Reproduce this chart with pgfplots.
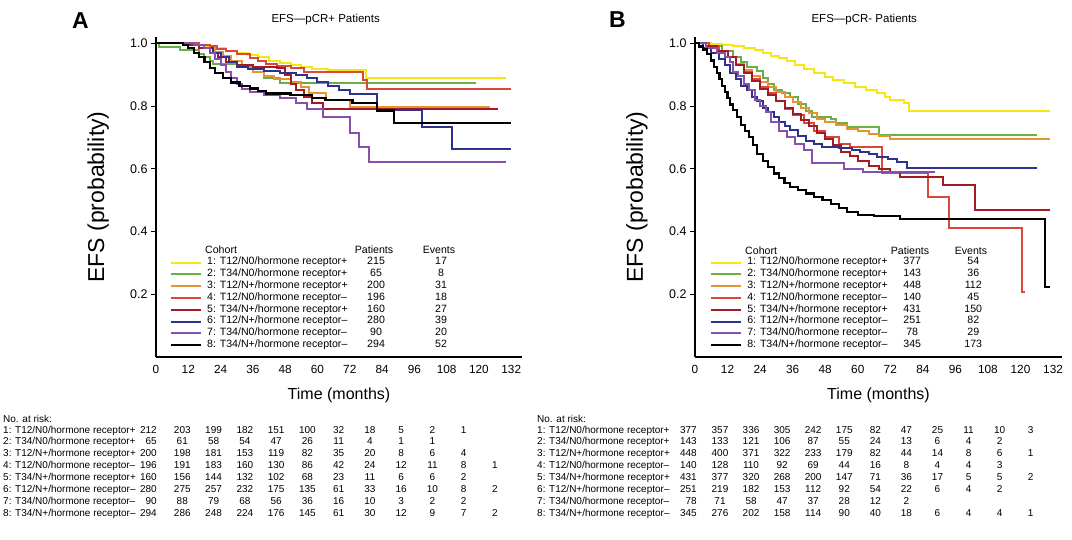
\documentclass[border=0pt]{standalone}
\usepackage{fontspec}
\setmainfont{Liberation Sans}
\usepackage{pgfplots}
\pgfplotsset{compat=1.18}

\definecolor{c1}{RGB}{245,230,20}
\definecolor{c2}{RGB}{105,175,70}
\definecolor{c3}{RGB}{228,148,50}
\definecolor{c4}{RGB}{218,72,58}
\definecolor{c5}{RGB}{165,25,35}
\definecolor{c6}{RGB}{45,50,140}
\definecolor{c7}{RGB}{135,80,170}
\definecolor{c8}{RGB}{0,0,0}

\newcommand\legfont{\fontsize{10.6bp}{12bp}\selectfont}
\newcommand\riskfont{\fontsize{10bp}{12bp}\selectfont}
\newcommand\xtickfont{\fontsize{11.8bp}{13bp}\selectfont}
\newcommand\ytickfont{\fontsize{12.5bp}{14bp}\selectfont}

% #1 label x, #2 col0 right x, #3 col1 x, #4 step, #5 baseline y, #6 label, #7 numbers
\newcommand\riskrow[7]{%
  \node[anchor=base west, inner sep=0pt] at (#1bp,-#5bp) {#6};
  \foreach \v [count=\i from 0] in {#7} {%
    \ifnum\i=0
      \node[anchor=base east, inner sep=0pt] at (#2bp,-#5bp) {\v};
    \else
      \pgfmathsetmacro\xx{#3+#4*(\i-1)}
      \node[anchor=base, inner sep=0pt] at (\xx bp,-#5bp) {\v};
    \fi
  }%
}
% legend entry text: #1 label width, #2 gap, #3 label, #4 patients, #5 events
\newcommand\leg[5]{\makebox[#1bp][l]{#3}\makebox[36bp]{#4}\hspace{#2bp}\makebox[36bp]{#5}}

\pgfplotsset{
  kmaxis/.style={
    scale only axis, height=320bp,
    xmin=0, ymin=0, ymax=1.02,
    axis lines=left, axis line style={-, line width=1.8bp, black},
    xtick={0,12,...,132}, ytick={0.2,0.4,0.6,0.8,1.0},
    tick align=outside, major tick length=5bp,
    xtick style={draw=none}, ytick style={line width=1bp, black},
    /pgf/number format/assume math mode=true,
    xticklabel style={font=\xtickfont},
    yticklabel style={font=\ytickfont, /pgf/number format/.cd, fixed, fixed zerofill, precision=1},
    every axis x label/.style={at={(axis description cs:0.5,-0.134)}, anchor=base, font=\fontsize{16bp}{18bp}\selectfont},
    every axis y label/.style={at={(axis description cs:-0.158,0.5)}, rotate=90, anchor=center, font=\fontsize{23bp}{26bp}\selectfont},
    xlabel={Time (months)}, ylabel={EFS (probability)},
    legend cell align=left,
    legend image code/.code={\draw[#1] (0bp,0bp) -- (30bp,0bp);},
    every axis plot/.append style={const plot, line width=2bp},
  }
}

\begin{document}
\begin{tikzpicture}
% ---------------- Panel A ----------------
\begin{axis}[kmaxis, at={(156bp,-357bp)}, anchor=south west, width=366bp, xmax=136,
  title={EFS—pCR+ Patients},
  title style={at={(axis description cs:0.306,1.027)}, anchor=base west, font=\fontsize{11.5bp}{13bp}\selectfont},
  legend style={at={(axis description cs:0.038,0.3137)}, anchor=north west, draw=none, fill=none,
    inner sep=0pt, outer sep=0pt, font=\legfont, row sep=0pt,
    nodes={inner sep=0pt, text height=8.2bp, text depth=3.6bp},
    /tikz/every odd column/.style={column sep=5bp}},
]
\addplot[c1] coordinates {(0,1) (10,1) (14,0.995) (18,0.99) (22,0.985) (26,0.975) (30,0.968) (34,0.962) (38,0.955) (42,0.945) (46,0.938) (50,0.93) (54,0.925) (58,0.918) (64,0.914) (78,0.89) (130,0.89)};
\addlegendentry{\leg{151}{29}{1: T12/N0/hormone receptor+}{215}{17}}
\addplot[c2] coordinates {(0,1) (1,0.988) (9,0.977) (16,0.966) (18,0.955) (20,0.944) (21,0.935) (30,0.925) (36,0.91) (40,0.89) (46,0.872) (119,0.872)};
\addlegendentry{\leg{151}{29}{2: T34/N0/hormone receptor+}{65}{8}}
\addplot[c3] coordinates {(0,1) (14,0.995) (18,0.985) (22,0.972) (25,0.96) (28,0.945) (32,0.925) (36,0.91) (40,0.895) (44,0.885) (50,0.875) (54,0.86) (57,0.84) (63,0.818) (72,0.796) (124,0.796)};
\addlegendentry{\leg{151}{29}{3: T12/N+/hormone receptor+}{200}{31}}
\addplot[c4] coordinates {(0,1) (16,0.995) (20,0.99) (22.6,0.983) (26,0.975) (30,0.967) (35,0.952) (38,0.945) (41,0.935) (45,0.928) (50,0.92) (55,0.909) (77,0.883) (78.5,0.853) (132,0.853)};
\addlegendentry{\leg{151}{29}{4: T12/N0/hormone receptor–}{196}{18}}
\addplot[c5] coordinates {(0,1) (12,0.995) (16,0.985) (20,0.97) (23,0.955) (26,0.94) (30,0.93) (36,0.924) (45,0.92) (48,0.9) (50,0.87) (52,0.85) (55,0.83) (58,0.81) (62,0.79) (127,0.79)};
\addlegendentry{\leg{151}{29}{5: T34/N+/hormone receptor+}{160}{27}}
\addplot[c6] coordinates {(0,1) (14,0.995) (18,0.985) (21,0.97) (24,0.955) (27,0.94) (30,0.925) (34,0.918) (40,0.912) (46,0.905) (52,0.898) (56,0.89) (60,0.878) (64,0.865) (68,0.85) (72,0.837) (82,0.786) (99,0.733) (110,0.662) (132,0.662)};
\addlegendentry{\leg{151}{29}{6: T12/N+/hormone receptor–}{280}{39}}
\addplot[c7] coordinates {(0,1) (14,0.995) (18,0.985) (20,0.97) (22,0.95) (24,0.93) (26,0.91) (28,0.89) (30,0.87) (32,0.855) (35,0.845) (40,0.835) (46,0.825) (52,0.81) (56,0.79) (62,0.765) (72,0.714) (75.5,0.67) (79,0.62) (130,0.62)};
\addlegendentry{\leg{151}{29}{7: T34/N0/hormone receptor–}{90}{20}}
\addplot[c8, line width=2.2bp] coordinates {(0,1) (10,0.995) (12,0.985) (14,0.968) (16,0.955) (18,0.94) (20,0.92) (22,0.905) (25,0.89) (28,0.875) (31,0.865) (35,0.856) (38,0.848) (41,0.84) (50,0.835) (58,0.825) (63,0.818) (73,0.81) (82,0.786) (88.5,0.747) (132,0.747)};
\addlegendentry{\leg{151}{29}{8: T34/N+/hormone receptor–}{294}{52}}
\end{axis}

% ---------------- Panel B ----------------
\begin{axis}[kmaxis, at={(695bp,-357bp)}, anchor=south west, width=367bp, xmax=135.3,
  title={EFS—pCR- Patients},
  title style={at={(axis description cs:0.308,1.027)}, anchor=base west, font=\fontsize{11.5bp}{13bp}\selectfont},
  legend style={at={(axis description cs:0.041,0.3137)}, anchor=north west, draw=none, fill=none,
    inner sep=0pt, outer sep=0pt, font=\legfont, row sep=0pt,
    nodes={inner sep=0pt, text height=8.2bp, text depth=3.6bp},
    /tikz/every odd column/.style={column sep=5bp}},
]
\addplot[c1] coordinates {(0,1) (6,0.997) (10,0.993) (14,0.99) (18,0.985) (22,0.978) (25,0.97) (28,0.96) (31,0.952) (34,0.942) (37,0.932) (40,0.918) (44,0.905) (48,0.892) (51,0.882) (55,0.872) (59,0.862) (63,0.852) (67,0.84) (70,0.83) (72,0.818) (77,0.81) (79,0.784) (131,0.784)};
\addlegendentry{\leg{147}{25}{1: T12/N0/hormone receptor+}{377}{54}}
\addplot[c2] coordinates {(0,1) (5,0.99) (10,0.975) (14,0.955) (17,0.94) (19,0.925) (23,0.912) (25,0.89) (27,0.87) (29,0.85) (32,0.84) (35,0.83) (38,0.805) (41,0.785) (43,0.765) (50,0.758) (52,0.745) (56,0.733) (68,0.709) (126,0.709)};
\addlegendentry{\leg{147}{25}{2: T34/N0/hormone receptor+}{143}{36}}
\addplot[c3] coordinates {(0,1) (4,0.99) (8,0.975) (12,0.955) (15,0.935) (18,0.915) (21,0.895) (24,0.875) (27,0.86) (30,0.845) (33,0.828) (36,0.812) (39,0.795) (42,0.778) (45,0.76) (48,0.75) (52,0.738) (56,0.728) (60,0.72) (64,0.712) (68,0.703) (72,0.694) (131,0.694)};
\addlegendentry{\leg{147}{25}{3: T12/N+/hormone receptor+}{448}{112}}
\addplot[c4] coordinates {(0,1) (5,0.99) (9,0.975) (12,0.955) (15,0.93) (18,0.91) (21,0.885) (24,0.86) (27,0.84) (30,0.815) (33,0.79) (36,0.77) (40,0.745) (44,0.72) (48,0.7) (53,0.68) (57,0.67) (69,0.585) (86,0.51) (93.5,0.41) (120.5,0.207) (121.5,0.207)};
\addlegendentry{\leg{147}{25}{4: T12/N0/hormone receptor–}{140}{45}}
\addplot[c5] coordinates {(0,1) (4,0.99) (8,0.975) (12,0.955) (15,0.93) (18,0.905) (21,0.88) (24,0.855) (27,0.835) (30,0.815) (33,0.795) (36,0.775) (39,0.755) (42,0.735) (45,0.715) (48,0.695) (51,0.675) (54,0.655) (57,0.64) (60,0.625) (64,0.61) (68,0.598) (72,0.59) (75.5,0.574) (91.6,0.548) (103.3,0.47) (131,0.47)};
\addlegendentry{\leg{147}{25}{5: T34/N+/hormone receptor+}{431}{150}}
\addplot[c6] coordinates {(0,1) (3,0.985) (6,0.97) (9,0.95) (11,0.93) (13,0.905) (15,0.885) (17,0.865) (19,0.85) (21,0.83) (23,0.815) (25,0.795) (27,0.78) (29,0.765) (31,0.75) (33,0.737) (35,0.723) (38,0.705) (41,0.69) (44,0.678) (47,0.67) (53,0.665) (58,0.66) (61,0.654) (64,0.646) (67,0.638) (71,0.63) (74.4,0.622) (78,0.604) (126,0.604)};
\addlegendentry{\leg{147}{25}{6: T12/N+/hormone receptor–}{251}{82}}
\addplot[c7] coordinates {(0,1) (4,0.985) (8,0.97) (11,0.955) (13,0.94) (14,0.91) (16,0.895) (18,0.87) (20,0.85) (22,0.82) (24,0.8) (26,0.78) (28,0.75) (31,0.72) (34,0.7) (37,0.68) (40,0.66) (43,0.617) (55,0.6) (62,0.59) (88.5,0.59)};
\addlegendentry{\leg{147}{25}{7: T34/N0/hormone receptor–}{78}{29}}
\addplot[c8, line width=2.2bp] coordinates {(0,1) (1.5,0.99) (3,0.98) (4.5,0.965) (6,0.945) (7,0.925) (8,0.905) (9,0.885) (10,0.865) (11,0.845) (12,0.825) (13,0.805) (14,0.787) (15.5,0.765) (17,0.74) (18.5,0.72) (20,0.7) (21.5,0.675) (23,0.648) (25,0.625) (27,0.605) (29,0.585) (31,0.57) (33,0.555) (35,0.542) (38,0.532) (41,0.521) (44,0.51) (47,0.5) (50,0.488) (53,0.475) (56,0.463) (60,0.452) (66,0.449) (75.5,0.439) (129,0.224) (131,0.224)};
\addlegendentry{\leg{147}{25}{8: T34/N+/hormone receptor–}{345}{173}}
\end{axis}

% panel letters
\node[anchor=base west, inner sep=0pt, font=\fontsize{23bp}{26bp}\selectfont\bfseries] at (72bp,-28bp) {A};
\node[anchor=base west, inner sep=0pt, font=\fontsize{23bp}{26bp}\selectfont\bfseries] at (609bp,-27bp) {B};

% legend headers
\begin{scope}[font=\legfont]
\node[anchor=base west, inner sep=0pt] at (205bp,-253.8bp) {Cohort};
\node[anchor=base, inner sep=0pt] at (374bp,-253.8bp) {Patients};
\node[anchor=base, inner sep=0pt] at (439bp,-253.8bp) {Events};
\node[anchor=base west, inner sep=0pt] at (745bp,-254.8bp) {Cohort};
\node[anchor=base, inner sep=0pt] at (910bp,-254.8bp) {Patients};
\node[anchor=base, inner sep=0pt] at (971bp,-254.8bp) {Events};
\end{scope}

% at-risk tables
\begin{scope}[font=\riskfont]
\node[anchor=base west, inner sep=0pt] at (3bp,-422bp) {No. at risk:};
\riskrow{3}{157}{182.3}{31.27}{433}{1: T12/N0/hormone receptor+}{212,203,199,182,151,100,32,18,5,2,1}
\riskrow{3}{157}{182.3}{31.27}{444.9}{2: T34/N0/hormone receptor+}{65,61,58,54,47,26,11,4,1,1}
\riskrow{3}{157}{182.3}{31.27}{456.8}{3: T12/N+/hormone receptor+}{200,198,181,153,119,82,35,20,8,6,4}
\riskrow{3}{157}{182.3}{31.27}{468.7}{4: T12/N0/hormone receptor–}{196,191,183,160,130,86,42,24,12,11,8,1}
\riskrow{3}{157}{182.3}{31.27}{480.6}{5: T34/N+/hormone receptor+}{160,156,144,132,102,68,23,11,6,6,2}
\riskrow{3}{157}{182.3}{31.27}{492.5}{6: T12/N+/hormone receptor–}{280,275,257,232,175,135,61,33,16,10,8,2}
\riskrow{3}{157}{182.3}{31.27}{504.4}{7: T34/N0/hormone receptor–}{90,88,79,68,56,36,16,10,3,2,2}
\riskrow{3}{157}{182.3}{31.27}{516.3}{8: T34/N+/hormone receptor–}{294,286,248,224,176,145,61,30,12,9,7,2}

\node[anchor=base west, inner sep=0pt] at (537bp,-422bp) {No. at risk:};
\riskrow{537}{697}{720}{31.07}{433}{1: T12/N0/hormone receptor+}{377,357,336,305,242,175,82,47,25,11,10,3}
\riskrow{537}{697}{720}{31.07}{444.9}{2: T34/N0/hormone receptor+}{143,133,121,106,87,55,24,13,6,4,2}
\riskrow{537}{697}{720}{31.07}{456.8}{3: T12/N+/hormone receptor+}{448,400,371,322,233,179,82,44,14,8,6,1}
\riskrow{537}{697}{720}{31.07}{468.7}{4: T12/N0/hormone receptor–}{140,128,110,92,69,44,16,8,4,4,3}
\riskrow{537}{697}{720}{31.07}{480.6}{5: T34/N+/hormone receptor+}{431,377,320,268,200,147,71,36,17,5,5,2}
\riskrow{537}{697}{720}{31.07}{492.5}{6: T12/N+/hormone receptor–}{251,219,182,153,112,92,54,22,6,4,2}
\riskrow{537}{697}{720}{31.07}{504.4}{7: T34/N0/hormone receptor–}{78,71,58,47,37,28,12,2}
\riskrow{537}{697}{720}{31.07}{516.3}{8: T34/N+/hormone receptor–}{345,276,202,158,114,90,40,18,6,4,4,1}
\end{scope}

\pgfresetboundingbox
\path[use as bounding box] (0,0) rectangle (1072bp,-540bp);
\end{tikzpicture}
\end{document}
